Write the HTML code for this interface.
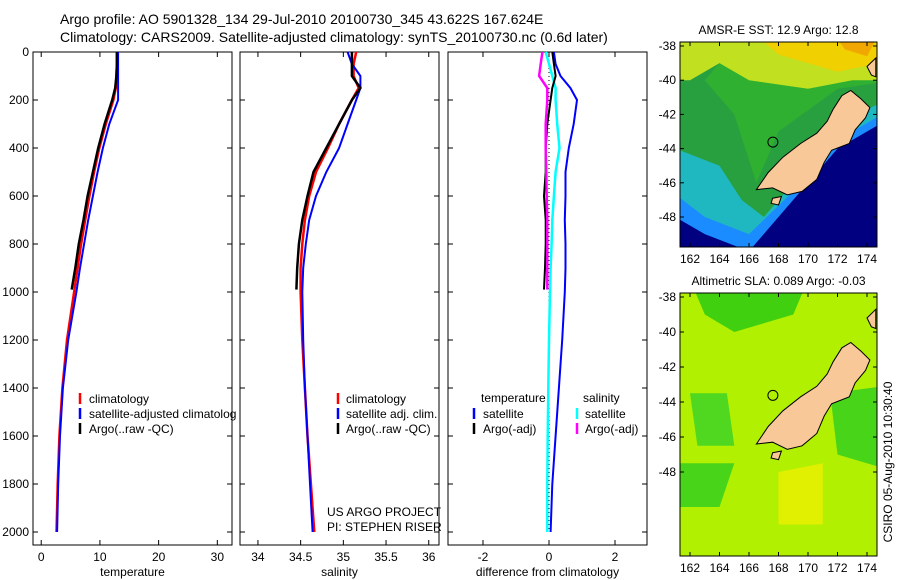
<!DOCTYPE html>
<html><head><meta charset="utf-8"><style>
body{margin:0;background:#fff;}
svg{display:block;font-family:"Liberation Sans",sans-serif;}
</style></head><body>
<svg id="fig" width="900" height="580" viewBox="0 0 900 580">
<text x="60" y="24" font-size="14">Argo profile: AO 5901328_134 29-Jul-2010 20100730_345 43.622S 167.624E</text>
<text x="60" y="42" font-size="14">Climatology: CARS2009. Satellite-adjusted climatology: synTS_20100730.nc (0.6d later)</text>
<g id="plots"></g>
</svg>
<script>
// ---- data ----
const depths = [0,50,100,150,200,300,400,500,600,700,800,900,1000,1200,1400,1600,1800,2000];
const tempClim = [12.9,12.9,12.8,12.7,12.3,11.0,9.9,9.0,8.2,7.5,6.8,6.2,5.6,4.4,3.6,3.1,2.8,2.6];
const tempSat  = [13.1,13.1,13.1,13.1,13.1,11.6,10.5,9.6,8.8,8.0,7.3,6.6,6.0,4.6,3.7,3.2,2.9,2.7];
const argoDepths = [0,50,100,150,200,300,400,500,600,700,800,900,990];
const tempArgo = [12.9,12.9,12.8,12.6,12.1,10.8,9.7,8.8,7.9,7.2,6.4,5.8,5.2];
const salClim = [35.15,35.12,35.12,35.18,35.1,34.95,34.82,34.68,34.6,34.55,34.52,34.5,34.5,34.52,34.55,34.58,34.62,34.66];
const salSat  = [35.05,35.1,35.2,35.2,35.15,35.05,34.95,34.8,34.68,34.6,34.56,34.53,34.52,34.53,34.55,34.58,34.61,34.64];
const salArgo = [35.1,35.1,35.1,35.2,35.1,34.95,34.8,34.65,34.58,34.52,34.48,34.46,34.45];
const dTempSat = [0.15,0.2,0.35,0.65,0.85,0.75,0.6,0.5,0.5,0.48,0.5,0.5,0.48,0.4,0.3,0.2,0.1,0.05];
const dSalSat  = [-0.1,0.0,0.1,0.2,0.2,0.25,0.32,0.2,0.15,0.1,0.08,0.05,0.03,0.0,-0.02,-0.04,-0.05,-0.05];
const dTempArgo = [0.1,0.15,0.2,0.1,0.05,-0.05,-0.1,-0.1,-0.15,-0.1,-0.1,-0.12,-0.15];
const dSalArgo  = [-0.2,-0.25,-0.3,-0.05,-0.05,-0.1,-0.1,-0.08,-0.07,-0.05,-0.05,-0.05,-0.05];
const tempTicks = [0,10,20,30];
const salTicks = [34,34.5,35,35.5,36];
const diffTicks = [-2,0,2];
const depthTicks = [0,200,400,600,800,1000,1200,1400,1600,1800,2000];
const latTicks = [-38,-40,-42,-44,-46,-48];
const lonTicks = [162,164,166,168,170,172,174];

const NS="http://www.w3.org/2000/svg";
const root=document.getElementById('plots');
function el(tag,attrs,parent){const e=document.createElementNS(NS,tag);for(const k in attrs)e.setAttribute(k,attrs[k]);(parent||root).appendChild(e);return e;}
const Y0=52, Y1=545;
const yD=d=>52+d*0.24;

function panel(name,x0,x1,xmin,xmax,ticks,label,showY){
  const xs=v=>x0+(v-xmin)/(xmax-xmin)*(x1-x0);
  const g=el('g',{});
  
  
  const r=el('rect',{x:x0,y:Y0,width:x1-x0,height:Y1-Y0,fill:'#fff',stroke:'#000','stroke-width':1},g);
  
  
  ticks.forEach(t=>{
    const x=xs(t);
    el('line',{x1:x,x2:x,y1:Y1,y2:Y1-5,stroke:'#000'},g);
    el('line',{x1:x,x2:x,y1:Y0,y2:Y0+5,stroke:'#000'},g);
    const tx=el('text',{x:x,y:Y1+16,'font-size':12,'text-anchor':'middle'},g);
    tx.textContent=String(t);
    
    
  });
  depthTicks.forEach(d=>{
    const y=yD(d);
    el('line',{x1:x0,x2:x0+5,y1:y,y2:y,stroke:'#000'},g);
    el('line',{x1:x1,x2:x1-5,y1:y,y2:y,stroke:'#000'},g);
    if(showY){const tx=el('text',{x:x0-4,y:y+4,'font-size':12,'text-anchor':'end'},g);tx.textContent=String(d);
      
      }
  });
  const lb=el('text',{x:(x0+x1)/2,y:576,'font-size':12,'text-anchor':'middle'},g);
  lb.textContent=label;
  
  
  return {g,xs};
}
function line(p,name,vals,dep,color,w){
  const pts=vals.map((v,i)=>p.xs(v).toFixed(1)+','+yD(dep[i]).toFixed(1)).join(' ');
  const l=el('polyline',{points:pts,fill:'none',stroke:color,'stroke-width':w},p.g);
  
  
}
function txt(g,x,y,s,name,extra){const t=el('text',Object.assign({x:x,y:y,'font-size':12},extra||{}),g);t.textContent=s;
  
  return t;}
function key(g,x,y,color){el('line',{x1:x,x2:x,y1:y-10,y2:y+1,stroke:color,'stroke-width':2.5},g);}

// panel 1
const p1=panel('temperature-panel',33,232,-1.4,32.5,tempTicks,'temperature',true);
line(p1,'temp-climatology-line',tempClim,depths,'#f00',2.5);
line(p1,'temp-satellite-line',tempSat,depths,'#00f',2);
line(p1,'temp-argo-line',tempArgo,argoDepths,'#000',2.5);
key(p1.g,80,403,'#f00');txt(p1.g,89,403,'climatology','legend-climatology');
key(p1.g,80,418,'#00f');txt(p1.g,89,418,'satellite-adjusted climatolog','legend-satellite');
key(p1.g,80,433,'#000');txt(p1.g,89,433,'Argo(..raw -QC)','legend-argo');

// panel 2
const p2=panel('salinity-panel',240,439,33.79,36.12,salTicks,'salinity',false);
line(p2,'sal-climatology-line',salClim,depths,'#f00',2.5);
line(p2,'sal-satellite-line',salSat,depths,'#00f',2);
line(p2,'sal-argo-line',salArgo,argoDepths,'#000',2.5);
key(p2.g,338,403,'#f00');txt(p2.g,346,403,'climatology','legend-climatology');
key(p2.g,338,418,'#00f');txt(p2.g,346,418,'satellite adj. clim.','legend-satellite');
key(p2.g,338,433,'#000');txt(p2.g,346,433,'Argo(..raw -QC)','legend-argo');
txt(p2.g,327,516,'US ARGO PROJECT','project-label');
txt(p2.g,327,531,'PI: STEPHEN RISER','pi-label');

// panel 3
const p3=panel('difference-panel',448,647,-3.06,2.97,diffTicks,'difference from climatology',false);
el('line',{x1:p3.xs(0),x2:p3.xs(0),y1:yD(0),y2:yD(2000),stroke:'#000','stroke-dasharray':'1,3'},p3.g);
line(p3,'dtemp-satellite-line',dTempSat,depths,'#00f',2);
line(p3,'dsal-satellite-line',dSalSat,depths,'#0ff',2.5);
line(p3,'dtemp-argo-line',dTempArgo,argoDepths,'#000',2);
line(p3,'dsal-argo-line',dSalArgo,argoDepths,'#f0f',2.5);
txt(p3.g,481,402,'temperature','legend-temperature-heading');
txt(p3.g,583,402,'salinity','legend-salinity-heading');
key(p3.g,474,418,'#00f');txt(p3.g,483,418,'satellite','legend-temp-satellite');
key(p3.g,474,433,'#000');txt(p3.g,483,433,'Argo(-adj)','legend-temp-argo');
key(p3.g,577,418,'#0ff');txt(p3.g,585,418,'satellite','legend-sal-satellite');
key(p3.g,577,433,'#f0f');txt(p3.g,585,433,'Argo(-adj)','legend-sal-argo');

// maps
const island=[[166.5,-46.4],[167.3,-45.4],[168.3,-44.5],[169.5,-43.7],[170.6,-43.1],[171.3,-42.4],[171.7,-41.7],[172.3,-40.9],[172.9,-40.6],[173.6,-41.1],[174.2,-41.6],[173.9,-42.2],[173.2,-42.9],[172.8,-43.7],[171.6,-44.1],[171.1,-44.8],[170.6,-45.8],[169.6,-46.5],[168.6,-46.7],[167.6,-46.3]];
const stewart=[[167.6,-46.9],[168.2,-46.8],[168.0,-47.3],[167.5,-47.2]];
const northI=[[174.6,-38.7],[174.0,-39.2],[174.3,-39.7],[174.6,-39.8]];
function map(name,y0,y1,latPx,title,layers){
  const x0=680,x1=877;
  const lx=lon=>690+(lon-162)*14.75;
  const ly=lat=>y0+4+(-38-lat)*latPx;
  const g=el('g',{});
  
  
  const cp=el('clipPath',{id:name+'-clip'},g);el('rect',{x:x0,y:y0,width:x1-x0,height:y1-y0},cp);
  const inner=el('g',{'clip-path':'url(#'+name+'-clip)'},g);
  layers.forEach(L=>{
    const pts=L.pts.map(p=>lx(p[0]).toFixed(1)+','+ly(p[1]).toFixed(1)).join(' ');
    el('polygon',{points:pts,fill:L.c},inner);
  });
  const poly=pts=>pts.map(p=>lx(p[0]).toFixed(1)+','+ly(p[1]).toFixed(1)).join(' ');
  const isl=el('polygon',{points:poly(island),fill:'#f8c898',stroke:'#000','stroke-width':1},inner);
  
  
  el('polygon',{points:poly(stewart),fill:'#f8c898',stroke:'#000'},inner);
  el('polygon',{points:poly(northI),fill:'#f8c898',stroke:'#000'},inner);
  const c=el('circle',{cx:lx(167.62),cy:ly(-43.62),r:5,fill:'none',stroke:'#000'},inner);
  
  
  el('rect',{x:x0,y:y0,width:x1-x0,height:y1-y0,fill:'none',stroke:'#000'},g);
  latTicks.forEach(t=>{const y=ly(t);el('line',{x1:x0,x2:x0+4,y1:y,y2:y,stroke:'#000'},g);el('line',{x1:x1,x2:x1-4,y1:y,y2:y,stroke:'#000'},g);
    txt(g,x0-4,y+4,String(t),name+'-lat-tick-label',{'text-anchor':'end'});});
  lonTicks.forEach(t=>{const x=lx(t);el('line',{x1:x,x2:x,y1:y1,y2:y1-4,stroke:'#000'},g);el('line',{x1:x,x2:x,y1:y0,y2:y0+4,stroke:'#000'},g);
    txt(g,x,y1+16,String(t),name+'-lon-tick-label',{'text-anchor':'middle'});});
  txt(g,(x0+x1)/2,y0-8,title,name+'-title',{'text-anchor':'middle'});
}
map('sst-map',42,247,17.1,'AMSR-E SST: 12.9 Argo: 12.8',[
  {c:'#000080',pts:[[160,-37],[176,-37],[176,-53],[160,-53]]},
  {c:'#1a8cff',pts:[[160,-37],[176,-37],[176,-42],[172,-44],[170,-46],[168,-48],[166,-50],[163,-49],[160,-47.5]]},
  {c:'#20b8c0',pts:[[160,-37],[176,-37],[176,-41.5],[172,-43.5],[169,-46.5],[166,-49],[163,-48],[160,-46]]},
  {c:'#28a040',pts:[[160,-37],[176,-37],[176,-41],[173,-42],[170,-45],[167,-48],[165.5,-47],[164,-45],[161,-44],[160,-43]]},
  {c:'#30b030',pts:[[166,-37],[176,-37],[176,-40],[172,-40.5],[168,-43],[166.5,-46],[165,-42],[163,-40]]},
  {c:'#c0e020',pts:[[160,-37],[176,-37],[176,-40],[173,-40],[170,-40.5],[166,-40],[164,-39],[162,-40],[160,-40]]},
  {c:'#f0d000',pts:[[166,-37],[176,-37],[176,-38.8],[172,-39.5],[168,-38.5]]},
  {c:'#f0a800',pts:[[171.5,-37],[175,-37],[174,-38.6],[172.5,-38.2]]}
]);
map('sla-map',293,556,17.5,'Altimetric SLA: 0.089 Argo: -0.03',[
  {c:'#b0f000',pts:[[160,-37],[176,-37],[176,-53],[160,-53]]},
  {c:'#40d010',pts:[[162,-37],[170,-37],[169,-39],[165,-40],[163,-39]]},
  {c:'#50d820',pts:[[162,-43.5],[164.5,-43.5],[165,-46.5],[162.5,-46.5]]},
  {c:'#48d418',pts:[[171.5,-43.5],[176,-43],[176,-48],[172,-47]]},
  {c:'#48d418',pts:[[160,-47.5],[165,-47.5],[164,-50],[160,-50]]},
  {c:'#e0f000',pts:[[168,-48],[171,-47.5],[171,-51],[168,-51]]}
]);
const cs=el('text',{x:0,y:0,'font-size':12,'text-anchor':'middle',transform:'translate(892,462) rotate(-90)'});
cs.textContent='CSIRO 05-Aug-2010 10:30:40';


</script>
</body></html>
